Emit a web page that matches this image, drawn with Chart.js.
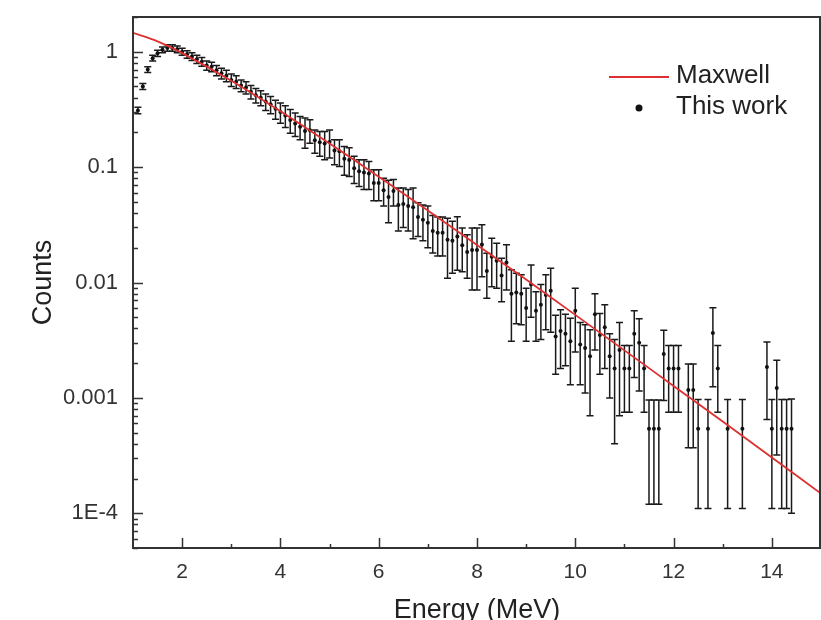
<!DOCTYPE html>
<html>
<head>
<meta charset="utf-8">
<script src="https://cdn.jsdelivr.net/npm/chart.js@4.4.1/dist/chart.umd.min.js"></script>
<style>
  html, body { margin: 0; padding: 0; background: #fff; }
</style>
</head>
<body>
<canvas id="spectrum" width="821" height="620"></canvas>
<script>
// energy grid of the measured points (MeV), gaps where there are no counts
const energy = [
  1.1, 1.2, 1.3, 1.4, 1.5, 1.6, 1.7, 1.8, 1.9, 2.0,
  2.1, 2.2, 2.3, 2.4, 2.5, 2.6, 2.7, 2.8, 2.9, 3.0,
  3.1, 3.2, 3.3, 3.4, 3.5, 3.6, 3.7, 3.8, 3.9, 4.0,
  4.1, 4.2, 4.3, 4.4, 4.5, 4.6, 4.7, 4.8, 4.9, 5.0,
  5.1, 5.2, 5.3, 5.4, 5.5, 5.6, 5.7, 5.8, 5.9, 6.0,
  6.1, 6.2, 6.3, 6.4, 6.5, 6.6, 6.7, 6.8, 6.9, 7.0,
  7.1, 7.2, 7.3, 7.4, 7.5, 7.6, 7.7, 7.8, 7.9, 8.0,
  8.1, 8.2, 8.3, 8.4, 8.5, 8.6, 8.7, 8.8, 8.9, 9.0,
  9.1, 9.2, 9.3, 9.4, 9.5, 9.6, 9.7, 9.8, 9.9, 10.0,
  10.1, 10.2, 10.3, 10.4, 10.5, 10.6, 10.7, 10.8, 10.9, 11.0,
  11.1, 11.2, 11.3, 11.4, 11.5, 11.6, 11.7, 11.8, 11.9, 12.0,
  12.1, 12.3, 12.4, 12.5, 12.7, 12.8, 12.9, 13.1, 13.4, 13.9,
  14.0, 14.1, 14.2, 14.3, 14.4
];
const counts = [
  0.31, 0.50, 0.70, 0.88, 0.97, 1.04, 1.08, 1.08, 1.05, 1.00,
  0.95, 0.91, 0.86, 0.82, 0.76, 0.74, 0.69, 0.65, 0.62, 0.57,
  0.55, 0.51, 0.49, 0.45, 0.42, 0.40, 0.37, 0.35, 0.32, 0.30,
  0.28, 0.256, 0.239, 0.224, 0.206, 0.209, 0.171, 0.164, 0.160, 0.165,
  0.139, 0.137, 0.118, 0.115, 0.098, 0.092, 0.090, 0.088, 0.073, 0.073,
  0.063, 0.055, 0.062, 0.047, 0.048, 0.046, 0.045, 0.037, 0.035, 0.033,
  0.028, 0.027, 0.027, 0.0235, 0.023, 0.025, 0.021, 0.0184, 0.0191, 0.0191,
  0.0214, 0.0126, 0.0167, 0.0154, 0.0115, 0.0149, 0.0080, 0.0082, 0.0080, 0.0060,
  0.0096, 0.0057, 0.0064, 0.0078, 0.0085, 0.0034, 0.0038, 0.0036, 0.0031, 0.0057,
  0.0029, 0.0027, 0.0023, 0.0053, 0.0035, 0.0041, 0.0023, 0.0018, 0.0026, 0.0018,
  0.0018, 0.0036, 0.0030, 0.0018, 0.00054, 0.00054, 0.00054, 0.0024, 0.0018, 0.0018,
  0.0018, 0.00117, 0.00117, 0.00054, 0.00054, 0.00365, 0.0018, 0.00054, 0.00054, 0.00185,
  0.00054, 0.00122, 0.00054, 0.00054, 0.00054
];
const errors = [
  0.02, 0.03, 0.04, 0.05, 0.06, 0.06, 0.07, 0.07, 0.07, 0.07,
  0.07, 0.07, 0.07, 0.07, 0.07, 0.07, 0.07, 0.07, 0.07, 0.07,
  0.07, 0.06, 0.06, 0.06, 0.06, 0.06, 0.06, 0.06, 0.06, 0.06,
  0.06, 0.059, 0.055, 0.051, 0.060, 0.048, 0.039, 0.040, 0.044, 0.045,
  0.034, 0.036, 0.033, 0.032, 0.026, 0.024, 0.026, 0.024, 0.022, 0.022,
  0.017, 0.022, 0.016, 0.019, 0.018, 0.018, 0.021, 0.012, 0.012, 0.013,
  0.010, 0.010, 0.010, 0.0126, 0.011, 0.0122, 0.0086, 0.0075, 0.0105, 0.0105,
  0.0102, 0.0053, 0.0075, 0.0065, 0.0047, 0.0063, 0.0049, 0.0038, 0.0037, 0.0029,
  0.0046, 0.0026, 0.0032, 0.0039, 0.0048, 0.0018, 0.0020, 0.0017, 0.0018, 0.0032,
  0.0016, 0.0016, 0.0016, 0.0027, 0.0019, 0.0023, 0.0013, 0.0014, 0.0019, 0.00105,
  0.00105, 0.0021, 0.00185, 0.00105, 0.00042, 0.00042, 0.00042, 0.00145, 0.00105, 0.00105,
  0.00105, 0.0008, 0.0008, 0.00043, 0.00043, 0.0024, 0.00105, 0.00043, 0.00043, 0.0012,
  0.00043, 0.0009, 0.00043, 0.00043, 0.00044
];

// Maxwell curve
const maxwellEnergy = [1, 1.5, 2, 3, 4, 5, 6, 7, 8, 9, 10, 11, 12, 13, 14, 15];
const maxwellCounts = [1.46, 1.23, 0.973, 0.561, 0.305, 0.160, 0.0826, 0.0421, 0.0211,
  0.0106, 0.00524, 0.00258, 0.00127, 0.000623, 0.000304, 0.000148];

// axis ticks
const xTickValues = [2, 4, 6, 8, 10, 12, 14];
const xMinorTicks = [3, 5, 7, 9, 11, 13];
const yTickValues = [1e-4, 1e-3, 1e-2, 1e-1, 1];
const yTickLabels = ['1E-4', '0.001', '0.01', '0.1', '1'];

const FONT = '"Liberation Sans", Arial, sans-serif';
const AXIS = '#333';

// рамка, внутренние засечки, погрешности и легенда
const decorPlugin = {
  id: 'decor',
  beforeDatasetsDraw(chart) {
    const ctx = chart.ctx;
    const xs = chart.scales.x, ys = chart.scales.y;
    const a = chart.chartArea;
    ctx.save();
    ctx.beginPath();
    ctx.rect(a.left, a.top, a.right - a.left, a.bottom - a.top);
    ctx.clip();
    ctx.strokeStyle = '#1a1a1a';
    ctx.lineWidth = 1.5;
    for (let i = 0; i < energy.length; i++) {
      let x = xs.getPixelForValue(energy[i]);
      let lo = counts[i] - errors[i];
      if (lo <= 0) lo = ys.min / 10;
      let yTop = ys.getPixelForValue(counts[i] + errors[i]);
      let yBot = ys.getPixelForValue(lo);
      ctx.beginPath();
      ctx.moveTo(x, yTop); ctx.lineTo(x, yBot);
      ctx.moveTo(x - 3.5, yTop); ctx.lineTo(x + 3.5, yTop);
      ctx.moveTo(x - 3.5, yBot); ctx.lineTo(x + 3.5, yBot);
      ctx.stroke();
    }
    ctx.restore();
  },
  afterDraw(chart) {
    const ctx = chart.ctx;
    const xs = chart.scales.x, ys = chart.scales.y;
    const a = chart.chartArea;
    ctx.save();
    ctx.strokeStyle = AXIS;
    ctx.lineWidth = 2;
    ctx.strokeRect(a.left, a.top, a.right - a.left - 1, a.bottom - a.top);

    ctx.lineWidth = 1.5;
    ctx.beginPath();
    // y: major decades and minor 2..9
    for (let k = -5; k <= 0; k++) {
      for (let m = 1; m <= 9; m++) {
        let v = m * Math.pow(10, k);
        if (v < ys.min || v > ys.max) continue;
        let y = Math.round(ys.getPixelForValue(v)) + 0.5;
        let len = m === 1 ? 10 : 5;
        ctx.moveTo(a.left, y); ctx.lineTo(a.left + len, y);
      }
    }
    // x: major and minor
    xTickValues.forEach(v => {
      let x = Math.round(xs.getPixelForValue(v)) + 0.5;
      ctx.moveTo(x, a.bottom); ctx.lineTo(x, a.bottom - 10);
    });
    xMinorTicks.forEach(v => {
      let x = Math.round(xs.getPixelForValue(v)) + 0.5;
      ctx.moveTo(x, a.bottom); ctx.lineTo(x, a.bottom - 4);
    });
    ctx.stroke();

    // legend
    const ds = chart.data.datasets;
    const lx = a.right - 212, ly = a.top + 60;
    ctx.strokeStyle = ds[0].borderColor;
    ctx.lineWidth = 1.8;
    ctx.beginPath();
    ctx.moveTo(lx, ly); ctx.lineTo(lx + 60, ly);
    ctx.stroke();
    ctx.fillStyle = '#111';
    ctx.beginPath();
    ctx.arc(lx + 30, ly + 31, 3.5, 0, Math.PI * 2);
    ctx.fill();
    ctx.font = '26px ' + FONT;
    ctx.fillStyle = '#222';
    ctx.textBaseline = 'middle';
    ctx.fillText(ds[0].label, lx + 67, ly - 1);
    ctx.fillText(ds[1].label, lx + 67, ly + 30);
    ctx.restore();
  }
};

const maxwellPoints = maxwellEnergy.map((e, i) => ({ x: e, y: maxwellCounts[i] }));
const dataPoints = energy.map((e, i) => ({ x: e, y: counts[i] }));

new Chart(document.getElementById('spectrum').getContext('2d'), {
  type: 'scatter',
  data: {
    datasets: [{
      label: 'Maxwell',
      type: 'line',
      data: maxwellPoints,
      borderColor: 'rgb(222, 48, 48)',
      borderWidth: 1.8,
      pointRadius: 0,
      fill: false,
      tension: 0.3
    }, {
      label: 'This work',
      data: dataPoints,
      pointRadius: 2,
      pointBackgroundColor: '#111',
      pointBorderWidth: 0
    }]
  },
  options: {
    responsive: false,
    animation: false,
    layout: { autoPadding: false, padding: { top: 17, right: 0, left: 0, bottom: 0 } },
    plugins: {
      legend: { display: false },
      tooltip: { enabled: false }
    },
    scales: {
      x: {
        type: 'linear',
        min: 1,
        max: 15,
        grid: { display: false, drawTicks: false },
        border: { display: false },
        afterBuildTicks: s => { s.ticks = xTickValues.map(v => ({ value: v })); },
        afterFit: s => { s.height = 72; s.paddingLeft = 0; s.paddingRight = 0; },
        ticks: { padding: 12, color: AXIS, font: { family: FONT, size: 21 }, maxRotation: 0, autoSkip: false },
        title: { display: true, text: 'Energy (MeV)', color: '#222',
          font: { family: FONT, size: 27, lineHeight: 1 }, padding: { top: 0, bottom: -4 } }
      },
      y: {
        type: 'logarithmic',
        min: 5e-5,
        max: 2,
        grid: { display: false, drawTicks: false },
        border: { display: false },
        afterBuildTicks: s => { s.ticks = yTickValues.map(v => ({ value: v })); },
        afterFit: s => { s.width = 133; s.paddingTop = 0; s.paddingBottom = 0; },
        ticks: { padding: 15, color: AXIS, font: { family: FONT, size: 22 },
          callback: (v, i) => yTickLabels[i] },
        title: { display: true, text: 'Counts', color: '#222',
          font: { family: FONT, size: 27, lineHeight: 1 }, padding: { top: 30, bottom: 0 } }
      }
    }
  },
  plugins: [decorPlugin]
});
</script>
</body>
</html>
